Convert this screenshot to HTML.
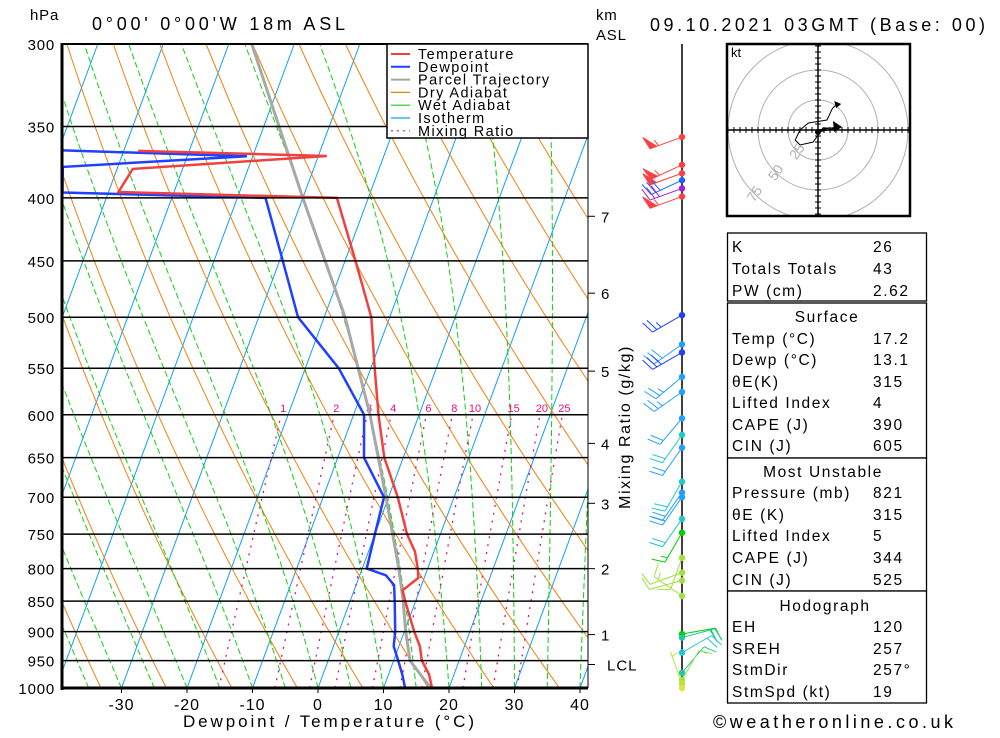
<!DOCTYPE html>
<html><head><meta charset="utf-8">
<style>
html,body{margin:0;padding:0;background:#fff;}
body{width:1000px;height:733px;overflow:hidden;font-family:"Liberation Sans",sans-serif;}
svg text{font-family:"Liberation Sans","DejaVu Sans",sans-serif;}
</style></head>
<body>
<svg id="chart" width="1000" height="733" viewBox="0 0 1000 733" xmlns="http://www.w3.org/2000/svg">
<g id="bg"></g>
<g id="prof"></g>
<g id="frame"></g>
<g id="winds"></g>
<g id="hodo"></g>
<g id="table"></g>
</svg>
<script>
// ---- data ----
const pressureLevels=[300,350,400,450,500,550,600,650,700,750,800,850,900,950,1000];
const tempTicks=[-30,-20,-10,0,10,20,30,40];
const tempP=[1000,975,950,925,900,850,833,814,800,775,750,700,650,600,550,500,450,400,395.6,378.9,369.9,366.4];
const tempT=[17.4,16.2,14.3,13.2,11.5,8.4,7.4,9.1,8.5,7.1,4.9,1.4,-2.9,-6.2,-9.4,-12.8,-18.4,-24.8,-58.5,-57.6,-28.7,-57.8];
const dewP=[1000,975,950,925,900,850,825,810,800,750,700,650,600,550,500,450,400,396,377.5,370,366];
const dewT=[13.3,12.1,10.7,9.2,8.6,6.8,5.8,4.0,0.7,0,-0.7,-6.0,-8.4,-14.9,-24,-29.5,-35.7,-67,-68.4,-40.9,-69.3];
const parcelP=[1000,950,900,850,800,700,600,500,400,300];
const parcelT=[17.2,12.5,10.2,8.1,5.6,-0.4,-7.5,-16.8,-30,-46.5];
const mixRatios=[1,2,3,4,6,8,10,15,20,25];
const kmLabels=['7','6','5','4','3','2','1'];
const kmPress=[414,478,553,633,708,800,905];
const windP=[357,376,382,387,393,399,498,526,534,559,575,604,623,638,680,694,700,729,748,784,806,818,842,904,910,936,972,985,992,1000];
const windDir=[250,245,250,245,250,250,240,235,240,230,235,220,215,215,210,215,215,215,210,200,250,255,305,80,75,60,40,30,340,0];
const windSpd=[55,55,50,30,30,55,25,30,30,25,25,20,20,20,20,20,20,20,15,10,10,10,15,20,20,20,15,10,5,0];
const windCol=['#ff4040','#ff4040','#ff4040','#2060ff','#a020d0','#ff4040','#2040ff','#20a0ff','#2040ff','#20a0ff','#20a0ff','#20a0ff','#20c8c8','#20a0ff','#20c8c8','#20a0ff','#20a0ff','#20c8c8','#00d000','#a0e040','#a0e040','#a0e040','#a0e040','#00d000','#20c8a0','#20c8c8','#20c8a0','#a0e040','#c0e040','#e0e040'];
const hodoU=[0,16,4,-4,-15,-19,-15,-8,7.5,12,16];
const hodoV=[-1.7,1.7,1.7,-10,-12.5,-8.3,0,5.8,8.3,18,21.7];
const tableLabels=['K','Totals Totals','PW (cm)','Temp (°C)','Dewp (°C)','θE(K)','Lifted Index','CAPE (J)','CIN (J)','Pressure (mb)','θE (K)','Lifted Index','CAPE (J)','CIN (J)','EH','SREH','StmDir','StmSpd (kt)'];
const tableValues=['26','43','2.62','17.2','13.1','315','4','390','605','821','315','5','344','525','120','257','257°','19'];

// ---- geometry ----
const NS='http://www.w3.org/2000/svg';
const X0=62,X1=588,Y0=44,Y1=688;
function yP(p){return Y0+Math.log(p/300)/Math.log(1000/300)*(Y1-Y0);}
function xT(T,p){return 318+6.55*T+0.37*(Y1-yP(p));}
function mk(parent,tag,attrs){const e=document.createElementNS(NS,tag);for(const k in attrs)e.setAttribute(k,attrs[k]);parent.appendChild(e);return e;}
const bg=document.getElementById('bg'),prof=document.getElementById('prof'),frame=document.getElementById('frame');
const defs=mk(document.getElementById('chart'),'defs',{});
const cp=mk(defs,'clipPath',{id:'plotclip'});mk(cp,'rect',{x:X0,y:Y0,width:X1-X0,height:Y1-Y0});
bg.setAttribute('clip-path','url(#plotclip)');
function pathFrom(ps,ts){return ps.map((p,i)=>(i?'L':'M')+xT(ts[i],p).toFixed(1)+','+yP(p).toFixed(1)).join(' ');}

// isotherms
for(let T=-130;T<=40;T+=10){
  const l=mk(bg,'line',{x1:xT(T,1000),y1:yP(1000),x2:xT(T,300),y2:yP(300),stroke:'#10a0f0','stroke-width':1});
  
  
}
// dry adiabats
for(let th=230;th<=480;th+=10){
  const ps=[],ts=[];
  for(let p=1000;p>=300;p-=10){ps.push(p);ts.push(th*Math.pow(p/1000,0.286)-273.15);}
  const d=mk(bg,'path',{d:pathFrom(ps,ts),fill:'none',stroke:'#f08010','stroke-width':1});
  
  
}
// moist adiabats
function es(T){return 6.112*Math.exp(17.67*T/(T+243.5));}
for(let T0=-40;T0<=40;T0+=5){
  const ps=[1000],ts=[T0];let T=T0;
  for(let p=1000;p>300;p-=5){
    const Tk=T+273.15,rs=0.622*es(T)/(p-es(T));
    const dTdp=(287*Tk+2.5e6*rs)/(1004+2.5e6*2.5e6*rs*0.622/(287*Tk*Tk))/p;
    T-=dTdp*5;ps.push(p-5);ts.push(T);
  }
  const m=mk(bg,'path',{d:pathFrom(ps,ts),fill:'none',stroke:'#10d010','stroke-width':1,'stroke-dasharray':'6,3'});
  
  
}
// mixing ratio
function tdFromW(w,p){const e=w*p/(622+w);const a=Math.log(e/6.112);return 243.5*a/(17.67-a)+2;}
mixRatios.forEach(w=>{
  const ps=[],ts=[];for(let p=1000;p>=600;p-=10){ps.push(p);ts.push(tdFromW(w,p));}
  const m=mk(bg,'path',{d:pathFrom(ps,ts),fill:'none',stroke:'#e0107a','stroke-width':1.3,'stroke-dasharray':'2,6'});
  
  
  const t=mk(bg,'text',{x:xT(tdFromW(w,600),600)+2,y:yP(600)-3,'font-size':11,fill:'#e0107a','text-anchor':'middle'});
  t.textContent=String(w);
  
  
});
// isobars
pressureLevels.forEach(p=>{
  const l=mk(frame,'line',{x1:X0,y1:yP(p),x2:X1,y2:yP(p),stroke:'#000','stroke-width':1.5});
  
  
  const t=mk(frame,'text',{x:55,y:yP(p)+6,'font-size':15,'text-anchor':'end',fill:'#000','letter-spacing':'0.8'});
  t.textContent=String(p);
  
  
});
// profiles
const pp=mk(prof,'path',{d:pathFrom(parcelP,parcelT),fill:'none',stroke:'#a8a8a8','stroke-width':3});


const dp=mk(prof,'path',{d:pathFrom(dewP,dewT),fill:'none',stroke:'#2040ff','stroke-width':2.5});


const tp=mk(prof,'path',{d:pathFrom(tempP,tempT),fill:'none',stroke:'#f04040','stroke-width':2.5});


prof.setAttribute('clip-path','url(#plotclip)');
// frame
mk(frame,'line',{x1:X0,y1:Y0-1,x2:X0,y2:Y1+2,stroke:'#000','stroke-width':3});
mk(frame,'line',{x1:X0,y1:Y1,x2:X1,y2:Y1,stroke:'#000','stroke-width':3});
mk(frame,'line',{x1:X0,y1:Y0,x2:X1,y2:Y0,stroke:'#000','stroke-width':2});
mk(frame,'line',{x1:X1,y1:Y0,x2:X1,y2:Y1,stroke:'#000','stroke-width':1});
tempTicks.forEach(T=>{
  const x=xT(T,1000);
  mk(frame,'line',{x1:x,y1:Y1,x2:x,y2:Y1+5,stroke:'#000','stroke-width':1});
  const t=mk(frame,'text',{x:x,y:710,'font-size':16,'text-anchor':'middle',fill:'#000','letter-spacing':'1'});
  t.textContent=String(T);
  
  
});
kmLabels.forEach((k,i)=>{
  const y=yP(kmPress[i]);
  mk(frame,'line',{x1:X1,y1:y,x2:X1+7,y2:y,stroke:'#000','stroke-width':1});
  const t=mk(frame,'text',{x:601,y:y+6,'font-size':15,fill:'#000'});
  t.textContent=k;
  
  
});
{const y=yP(957);mk(frame,'line',{x1:X1,y1:y,x2:X1+7,y2:y,stroke:'#000','stroke-width':1});
 const t=mk(frame,'text',{x:607,y:y+6,'font-size':15,fill:'#000','letter-spacing':'1'});t.textContent='LCL';
 
 }
function txt(parent,x,y,s,size,name,extra){const t=mk(parent,'text',Object.assign({x:x,y:y,'font-size':size,fill:'#000'},extra||{}));t.textContent=s;
 
 return t;}
txt(frame,30,20,'hPa',15,'pressure-unit',{'letter-spacing':'0.8'});
txt(frame,92,30,"0°00'  0°00'W  18m  ASL",18,'station-title',{textLength:253,lengthAdjust:'spacing'});
txt(frame,596,20,'km',15,'km-unit',{'letter-spacing':'0.8'});
txt(frame,596,40,'ASL',15,'km-unit-asl',{'letter-spacing':'0.8'});
txt(frame,650,31,'09.10.2021  03GMT  (Base: 00)',18,'date-title',{textLength:335,lengthAdjust:'spacing'});
txt(frame,183,727,'Dewpoint / Temperature (°C)',17,'x-axis-title',{textLength:291,lengthAdjust:'spacing'});
txt(frame,625,422,'Mixing Ratio (g/kg)',16,'y2-axis-title',{'text-anchor':'middle',transform:'rotate(-90 630 422)','letter-spacing':'1.6'});
txt(frame,713,728,'©weatheronline.co.uk',18,'copyright',{textLength:240,lengthAdjust:'spacing'});
// legend
const lg=mk(frame,'g',{});


mk(lg,'rect',{x:387,y:44,width:201,height:94,fill:'#fff',stroke:'#000','stroke-width':1.5});
const legN=['Temperature','Dewpoint','Parcel Trajectory','Dry Adiabat','Wet Adiabat','Isotherm','Mixing Ratio'];
const legC=['#f04040','#2040ff','#a8a8a8','#f08010','#10d010','#10a0f0','#e0107a'];
legN.forEach((n,i)=>{
  const y=54+i*12.8;
  mk(lg,'line',{x1:391,y1:y,x2:410,y2:y,stroke:legC[i],'stroke-width':i<3?2:1.2,'stroke-dasharray':i==6?'2,4':'none'});
  txt(lg,418,y+5,n,14.5,'legend-entry',{'letter-spacing':'1.4'});
});
// winds
const wg=document.getElementById('winds');
const SX=682;
mk(wg,'line',{x1:SX,y1:Y0,x2:SX,y2:Y1+2,stroke:'#000','stroke-width':1.5});
windP.forEach((p,i)=>{
  const y=yP(p),c=windCol[i],d=windDir[i]*Math.PI/180,s=windSpd[i];
  const g=mk(wg,'g',{stroke:c,fill:c,'stroke-width':1});
  
  
  if(s>0){
    const L=34,ux=Math.sin(d),uy=-Math.cos(d),px=-uy,py=ux;
    const ex=SX+ux*L,ey=y+uy*L;
    mk(g,'line',{x1:SX,y1:y,x2:ex,y2:ey});
    let n50=Math.floor(s/50),rem=s%50,n10=Math.floor(rem/10),n5=Math.round((rem%10)/5);
    let pos=0;const F=13,st=5;
    const pxv=px,pyv=py; // feather side
    for(let k=0;k<n50;k++){
      const bx=ex-ux*pos,by=ey-uy*pos;
      mk(g,'polygon',{points:`${bx},${by} ${bx+pxv*F+ux*3},${by+pyv*F+uy*3} ${bx-ux*7},${by-uy*7}`});
      pos+=9;
    }
    for(let k=0;k<n10;k++){const bx=ex-ux*pos,by=ey-uy*pos;mk(g,'line',{x1:bx,y1:by,x2:bx+pxv*F+ux*4,y2:by+pyv*F+uy*4});pos+=st;}
    for(let k=0;k<n5;k++){if(pos==0)pos=st;const bx=ex-ux*pos,by=ey-uy*pos;mk(g,'line',{x1:bx,y1:by,x2:bx+pxv*F/2+ux*2,y2:by+pyv*F/2+uy*2});}
  }
  mk(g,'circle',{cx:SX,cy:y,r:3.2,stroke:'none'});
});
// hodograph
const hg=document.getElementById('hodo');
const HX=818,HY=130,HS=1.2;
const hc=mk(defs,'clipPath',{id:'hodoclip'});mk(hc,'rect',{x:727,y:44,width:183,height:172});
mk(hg,'rect',{x:727,y:44,width:183,height:172,fill:'#fff',stroke:'none'});
const hin=mk(hg,'g',{'clip-path':'url(#hodoclip)'});
[25,50,75].forEach(r=>mk(hin,'circle',{cx:HX,cy:HY,r:r*HS,fill:'none',stroke:'#b0b0b0','stroke-width':1}));
mk(hin,'line',{x1:727,y1:HY,x2:910,y2:HY,stroke:'#000','stroke-width':1.5});
mk(hin,'line',{x1:HX,y1:44,x2:HX,y2:216,stroke:'#000','stroke-width':1.5});
for(let k=-15;k<=15;k++){if(!k)continue;const o=k*6;
  mk(hin,'line',{x1:HX+o,y1:HY-3,x2:HX+o,y2:HY+3,stroke:'#000'});
  mk(hin,'line',{x1:HX-3,y1:HY+o,x2:HX+3,y2:HY+o,stroke:'#000'});}
[['25',25],['50',50],['75',75]].forEach(([s,r])=>{const a=Math.PI*0.75;
  const cx=HX+Math.cos(a)*r*HS,cy=HY+Math.sin(a)*r*HS;
  txt(hin,cx,cy+5,s,14,'hodograph-ring-label',{fill:'#b0b0b0','text-anchor':'middle',transform:`rotate(-55 ${cx} ${cy})`});});
const hp=mk(hin,'polyline',{points:hodoU.map((u,i)=>(HX+u*HS).toFixed(1)+','+(HY-hodoV[i]*HS).toFixed(1)).join(' '),fill:'none',stroke:'#000','stroke-width':1});


mk(hin,'circle',{cx:HX+hodoU[0]*HS,cy:HY-hodoV[0]*HS,r:3,fill:'#000'});
mk(hin,'polygon',{points:`${HX+hodoU[10]*HS+4},${HY-hodoV[10]*HS} ${HX+hodoU[10]*HS-3},${HY-hodoV[10]*HS-3} ${HX+hodoU[10]*HS-1},${HY-hodoV[10]*HS+4}`,fill:'#000'});
mk(hin,'polygon',{points:`${HX+24},${HY-3} ${HX+15},${HY-9} ${HX+16},${HY+2}`,fill:'#000'});
mk(hin,'line',{x1:HX,y1:HY,x2:HX+20,y2:HY-3,stroke:'#000'});
mk(hg,'rect',{x:727,y:44,width:183,height:172,fill:'none',stroke:'#000','stroke-width':2.5});
txt(hg,731,57,'kt',13,'hodograph-unit');
// table
const tg=document.getElementById('table');
const boxes=[[233,301],[303,458],[458,591],[591,703]];
boxes.forEach(b=>mk(tg,'rect',{x:727.5,y:b[0],width:199,height:b[1]-b[0],fill:'#fff',stroke:'#000','stroke-width':1.3}));
const rowY=[246,268,290,338,359,381,402,424,445,492,514,535,557,579,626,648,669,691];
tableLabels.forEach((l,i)=>{
  txt(tg,732,rowY[i]+6,l,15.5,'table-label',{'letter-spacing':'1.6'});
  txt(tg,873,rowY[i]+6,tableValues[i],15.5,'table-value',{'letter-spacing':'1.6'});
});
txt(tg,827,322,'Surface',15.5,'table-header',{'text-anchor':'middle','letter-spacing':'1.6'});
txt(tg,823,477,'Most Unstable',15.5,'table-header',{'text-anchor':'middle','letter-spacing':'1.6'});
txt(tg,825,611,'Hodograph',15.5,'table-header',{'text-anchor':'middle','letter-spacing':'1.6'});
</script>
</body></html>
